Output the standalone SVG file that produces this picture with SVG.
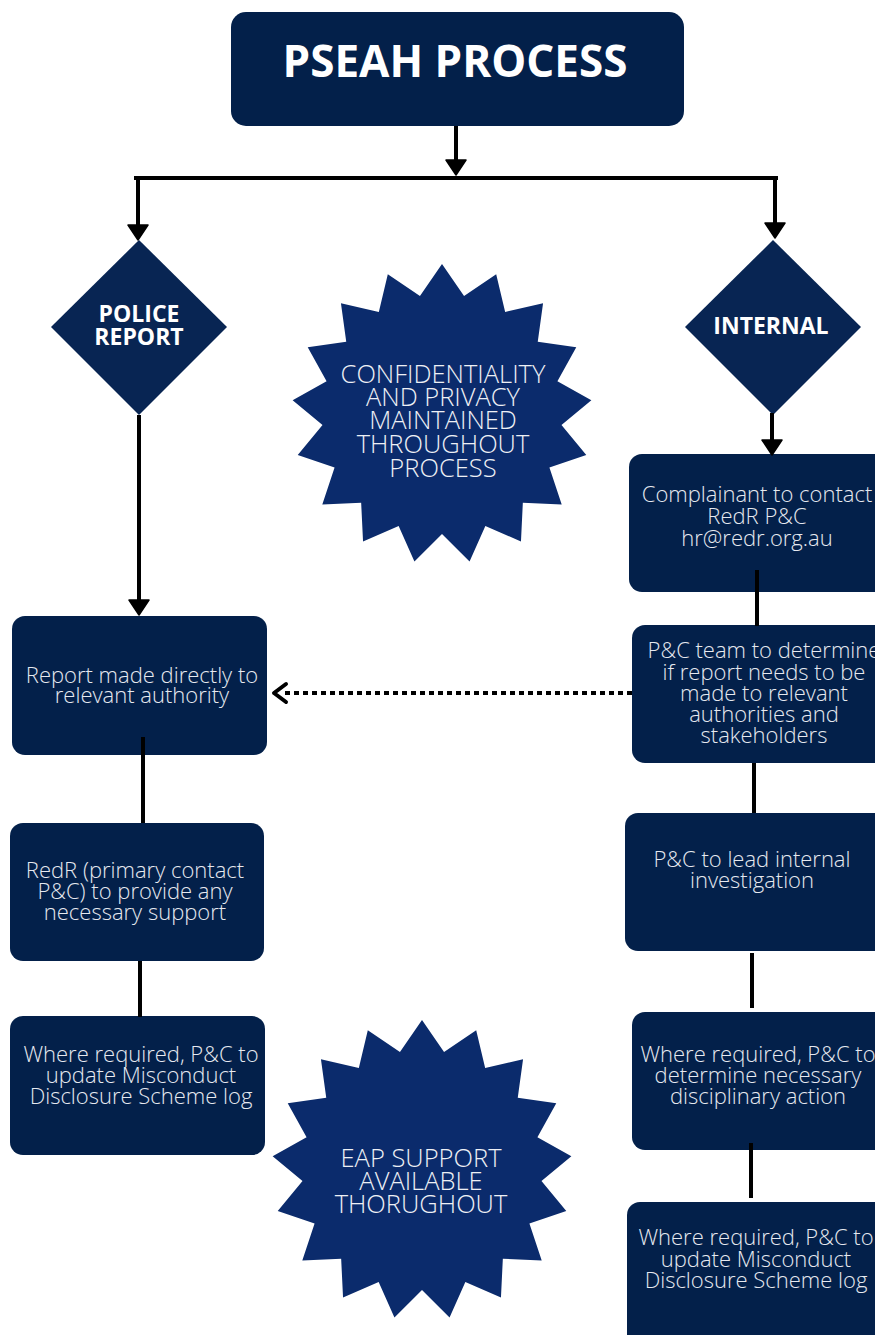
<svg xmlns="http://www.w3.org/2000/svg" xmlns:xlink="http://www.w3.org/1999/xlink" width="875" height="1335" viewBox="0 0 875 1335">
<style>
.box{fill:#03204a;}
.dia{fill:#082553;}
.star{fill:#0b2b6c;}
.title{font-family:"Open Sans","Liberation Sans",sans-serif;font-weight:700;font-size:44px;fill:#ffffff;text-anchor:middle;}
.dtxt{font-family:"Open Sans","Liberation Sans",sans-serif;font-weight:700;font-size:23px;fill:#ffffff;text-anchor:middle;}
.btxt{font-family:"Open Sans","Liberation Sans",sans-serif;font-weight:300;font-size:22px;fill:#e6e9f0;text-anchor:middle;}
.stxt{font-family:"Open Sans","Liberation Sans",sans-serif;font-weight:300;font-size:25.5px;fill:#eef0f5;text-anchor:middle;}
.con{stroke:#000;stroke-width:4;fill:none;}
.dot{stroke:#000;stroke-width:4;fill:none;stroke-dasharray:5 4;}
</style>
<defs>
<marker id="ah" markerUnits="userSpaceOnUse" markerWidth="18" markerHeight="22" viewBox="0 0 18 22" refX="1" refY="11" orient="auto">
<path d="M1,1 L16,11 L1,21 Z" fill="#000" stroke="#000" stroke-width="1.5" stroke-linejoin="round"/>
</marker>
<polygon id="starshape" points="0,-150 22.05,-117.96 54.19,-139.87 63.17,-102.03 101.06,-110.85 95.76,-72.32 134.27,-66.86 115.42,-32.84 149.36,-13.84 119.49,11.07 144.27,41.05 107.42,53.49 119.7,90.39 80.84,88.68 78.96,127.53 43.35,111.9 27.56,147.45 0,120 -27.56,147.45 -43.35,111.9 -78.96,127.53 -80.84,88.68 -119.7,90.39 -107.42,53.49 -144.27,41.05 -119.49,11.07 -149.36,-13.84 -115.42,-32.84 -134.27,-66.86 -95.76,-72.32 -101.06,-110.85 -63.17,-102.03 -54.19,-139.87 -22.05,-117.96"/>
</defs>
<rect width="875" height="1335" fill="#ffffff"/>

<g id="title">
<rect x="231" y="12" width="453" height="114" rx="15" class="box"/>
<text x="455" y="77" class="title">PSEAH PROCESS</text>
</g>

<g id="police-report">
<polygon points="139,240 227,327 139,415 51,327" class="dia"/>
<text x="139" y="322" class="dtxt">POLICE</text>
<text x="139" y="345" class="dtxt">REPORT</text>
</g>

<g id="internal">
<polygon points="773,240 861,327 773,415 685,327" class="dia"/>
<text x="771" y="334" class="dtxt">INTERNAL</text>
</g>

<g id="confidentiality">
<use xlink:href="#starshape" href="#starshape" x="442" y="414" class="star"/>
<text x="443" y="383" class="stxt">CONFIDENTIALITY</text>
<text x="443" y="406" class="stxt">AND PRIVACY</text>
<text x="443" y="429" class="stxt">MAINTAINED</text>
<text x="443" y="453" class="stxt">THROUGHOUT</text>
<text x="443" y="477" class="stxt">PROCESS</text>
</g>

<g id="eap">
<use xlink:href="#starshape" href="#starshape" x="422" y="1170" class="star"/>
<text x="421" y="1167" class="stxt">EAP SUPPORT</text>
<text x="421" y="1190" class="stxt">AVAILABLE</text>
<text x="421" y="1213" class="stxt">THORUGHOUT</text>
</g>

<g id="report-direct">
<rect x="12" y="616" width="255" height="139" rx="13" class="box"/>
<text x="142" y="683" class="btxt">Report made directly to</text>
<text x="142" y="703" class="btxt">relevant authority</text>
</g>

<g id="redr-support">
<rect x="10" y="823" width="254" height="138" rx="13" class="box"/>
<text x="135" y="878" class="btxt">RedR (primary contact</text>
<text x="135" y="899" class="btxt">P&amp;C) to provide any</text>
<text x="135" y="920" class="btxt">necessary support</text>
</g>

<g id="left-log">
<rect x="10" y="1016" width="255" height="139" rx="13" class="box"/>
<text x="141" y="1062" class="btxt">Where required, P&amp;C to</text>
<text x="141" y="1083" class="btxt">update Misconduct</text>
<text x="141" y="1104" class="btxt">Disclosure Scheme log</text>
</g>

<g id="complainant">
<rect x="629" y="454" width="262" height="138" rx="13" class="box"/>
<text x="757" y="502" class="btxt">Complainant to contact</text>
<text x="757" y="524" class="btxt">RedR P&amp;C</text>
<text x="757" y="546" class="btxt">hr@redr.org.au</text>
</g>

<g id="pc-determine">
<rect x="632" y="625" width="260" height="138" rx="13" class="box"/>
<text x="764" y="658" class="btxt">P&amp;C team to determine</text>
<text x="764" y="680" class="btxt">if report needs to be</text>
<text x="764" y="701" class="btxt">made to relevant</text>
<text x="764" y="722" class="btxt">authorities and</text>
<text x="764" y="743" class="btxt">stakeholders</text>
</g>

<g id="pc-investigation">
<rect x="625" y="813" width="262" height="138" rx="13" class="box"/>
<text x="752" y="867" class="btxt">P&amp;C to lead internal</text>
<text x="752" y="888" class="btxt">investigation</text>
</g>

<g id="disciplinary">
<rect x="632" y="1012" width="260" height="138" rx="13" class="box"/>
<text x="758" y="1062" class="btxt">Where required, P&amp;C to</text>
<text x="758" y="1083" class="btxt">determine necessary</text>
<text x="758" y="1104" class="btxt">disciplinary action</text>
</g>

<g id="right-log">
<rect x="627" y="1202" width="265" height="150" rx="13" class="box"/>
<text x="756" y="1245" class="btxt">Where required, P&amp;C to</text>
<text x="756" y="1267" class="btxt">update Misconduct</text>
<text x="756" y="1288" class="btxt">Disclosure Scheme log</text>
</g>

<g id="connectors">
<line x1="456" y1="126" x2="456" y2="160" class="con" marker-end="url(#ah)"/>
<line x1="134" y1="178" x2="778" y2="178" class="con"/>
<line x1="138" y1="176" x2="138" y2="225" class="con" marker-end="url(#ah)"/>
<line x1="775" y1="176" x2="775" y2="223" class="con" marker-end="url(#ah)"/>
<line x1="139" y1="415" x2="139" y2="600" class="con" marker-end="url(#ah)"/>
<line x1="772" y1="413" x2="772" y2="440" class="con" marker-end="url(#ah)"/>
<line x1="143" y1="737" x2="143" y2="823" class="con"/>
<line x1="140" y1="961" x2="140" y2="1017" class="con"/>
<line x1="757" y1="570" x2="757" y2="626" class="con"/>
<line x1="754" y1="763" x2="754" y2="813" class="con"/>
<line x1="752" y1="953" x2="752" y2="1008" class="con"/>
<line x1="751" y1="1143" x2="751" y2="1198" class="con"/>
<line x1="632" y1="693" x2="284" y2="693" class="dot"/>
<polyline points="286,684 274,693 286,702" class="con" stroke-linejoin="round" stroke-linecap="round"/>
</g>
</svg>
